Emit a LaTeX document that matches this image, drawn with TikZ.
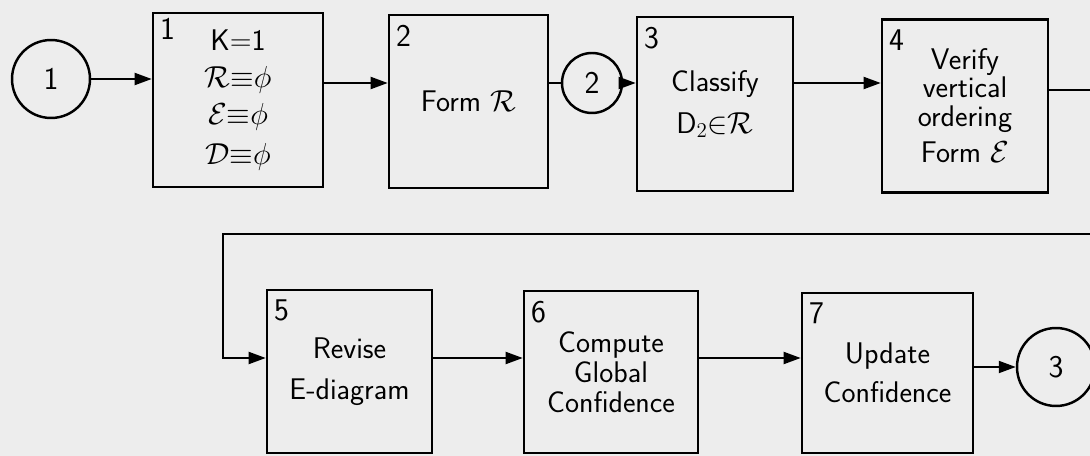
\documentclass[tikz,border=0pt]{standalone}
\usepackage{amsmath,amssymb}
\usepackage{fontspec}
\usepackage{xcolor}
\usepackage{tikz}
\usetikzlibrary{arrows.meta,calc}
\definecolor{paper}{gray}{0.93}

\begin{document}
\begin{tikzpicture}[x=0.02cm,y=-0.02cm,
  box/.style={draw,line width=1.5pt,align=center,inner sep=0pt,font=\sffamily\fontsize{17}{17}\selectfont},
  con/.style={circle,draw,line width=1.4pt,inner sep=0pt,font=\sffamily\fontsize{18}{19}\selectfont},
  num/.style={font=\sffamily\fontsize{18}{18}\selectfont,anchor=north west,inner sep=0pt,xshift=1.6mm,yshift=-2.2mm},
  arr/.style={line width=1.1pt,-{Triangle[length=3.4mm,width=2.4mm]}}]
 \fill[paper] (0,0) rectangle (1090,456);
 \useasboundingbox (0,0) rectangle (1090,456);
 % upper row
 \node[con,minimum size=1.56cm] (c1) at (51,79) {1};
 \node[box,minimum width=3.4cm,minimum height=3.48cm,label={[num,yshift=1mm]north west:1}] (b1) at (238,100)
   {K=1\\[4pt] $\mathcal{R}{\equiv}\phi$\\[4pt] $\mathcal{E}{\equiv}\phi$\\[6pt] $\mathcal{D}{\equiv}\phi$};
 \node[box,minimum width=3.18cm,minimum height=3.46cm,label={[num]north west:2}] (b2) at (468.5,101.5) {Form $\mathcal{R}$};
 \node[con,minimum size=1.2cm] (c2) at (592,83) {2};
 \node[box,minimum width=3.12cm,minimum height=3.48cm,label={[num]north west:3}] (b3) at (715,104)
   {Classify\\[7pt] D$_2$$\in$$\mathcal{R}$};
 \node[box,minimum width=3.32cm,minimum height=3.46cm,label={[num]north west:4},
   font=\sffamily\fontsize{17}{16}\selectfont] (b4) at (965,106)
   {Verify\\ vertical\\ ordering\\[5pt] Form $\mathcal{E}$};
 % lower row
 \node[box,minimum width=3.3cm,minimum height=3.26cm,label={[num]north west:5}] (b5) at (349.5,371.5)
   {Revise\\[6pt] E-diagram};
 \node[box,minimum width=3.48cm,minimum height=3.24cm,label={[num]north west:6}] (b6) at (611,372)
   {Compute\\ Global\\ Confidence};
 \node[box,minimum width=3.42cm,minimum height=3.2cm,label={[num]north west:7}] (b7) at (887.5,373)
   {Update\\[5pt] Confidence};
 \node[con,minimum size=1.56cm] (c3) at (1056,367) {3};
 \coordinate (e1) at (1090,90);
 \coordinate (e2) at (1090,234);
 \coordinate (k) at (223,358);
 % connectors
 \draw[arr] (c1) -- (c1 -| b1.west);
 \draw[arr] (b1.east |- c2) -- (b2.west |- c2);
 \draw[line width=1.1pt] (b2.east |- c2) -- (c2);
 \draw[arr] (c2) -- (c2 -| b3.west);
 \draw[arr] (b3.east |- c2) -- (b4.west |- c2);
 \draw[line width=1.1pt] (b4.east |- e1) -- (e1);
 \draw[arr] (e2) -- (e2 -| k) -- (k) -- (k -| b5.west);
 \draw[arr] (b5.east |- k) -- (b6.west |- k);
 \draw[arr] (b6.east |- k) -- (b7.west |- k);
 \draw[arr] (b7.east |- c3) -- (c3);
\end{tikzpicture}
\end{document}
